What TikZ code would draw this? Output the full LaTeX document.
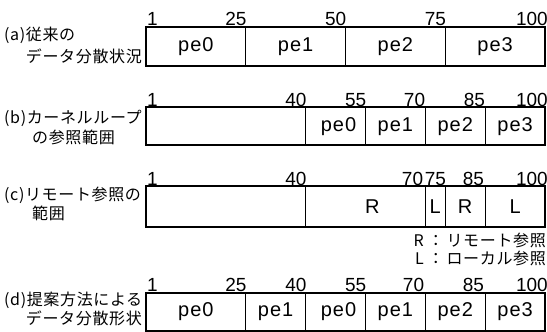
\documentclass[tikz,border=0pt]{standalone}
\usepackage{fontspec}
\setmainfont{Liberation Sans}
\newfontfamily\jp[LetterSpace=4]{Noto Sans CJK JP}
\newfontfamily\celltext[LetterSpace=5]{Liberation Sans}
\begin{document}
\begin{tikzpicture}[x=1pt,y=-1pt,
  outer/.style={draw, line width=1.3pt},
  divider/.style={draw, line width=1pt},
  num/.style={font=\fontsize{19}{19}\selectfont, anchor=base east, inner sep=0pt},
  numl/.style={num, anchor=base west},
  cell/.style={font=\celltext\fontsize{20}{20}\selectfont, inner sep=0pt},
  lab/.style={font=\jp\fontsize{16}{16}\selectfont, anchor=west, inner sep=0pt},
  labr/.style={lab, anchor=east},
  legend/.style={font=\jp\fontsize{16}{16}\selectfont, anchor=east, inner sep=0pt}]
\useasboundingbox (0,0) rectangle (547,332);
% ---------- (a)
\node[lab] (la1) at (4,35) {(a)従来の};
\node[labr] (la2) at (142,56) {データ分散状況};
\draw[outer] (146,27) rectangle (545,66);
\foreach \v in {25,50,75} \draw[divider] ({146+3.99*\v},27) -- ({146+3.99*\v},66);
\node[numl] (na1) at (147,26) {1};
\node[num] (na25) at ({146+3.99*25+1},26) {25};
\node[num] (na50) at ({146+3.99*50+1},26) {50};
\node[num] (na75) at ({146+3.99*75+1},26) {75};
\node[num] (na100) at (548,26) {100};
\node[cell] (ca0) at ({146+3.99*12.5},47) {pe0};
\node[cell] (ca1) at ({146+3.99*37.5},47) {pe1};
\node[cell] (ca2) at ({146+3.99*62.5},47) {pe2};
\node[cell] (ca3) at ({146+3.99*87.5},47) {pe3};
% ---------- (b)
\node[lab] (lb1) at (4,118) {(b)カーネルループ};
\node[lab] (lb2) at (32,137) {の参照範囲};
\draw[outer] (146,107) rectangle (545,145);
\foreach \v in {40,55,70,85} \draw[divider] ({146+3.99*\v},107) -- ({146+3.99*\v},145);
\node[numl] (nb1) at (147,106) {1};
\node[num] (nb40) at ({146+3.99*40+1},106) {40};
\node[num] (nb55) at ({146+3.99*55+1},106) {55};
\node[num] (nb70) at ({146+3.99*70},106) {70};
\node[num] (nb85) at ({146+3.99*85},106) {85};
\node[num] (nb100) at (548,106) {100};
\node[cell] (cb0) at ({146+3.99*47.5+3},127) {pe0};
\node[cell] (cb1) at ({146+3.99*62.5},127) {pe1};
\node[cell] (cb2) at ({146+3.99*77.5},127) {pe2};
\node[cell] (cb3) at ({146+3.99*92.5},127) {pe3};
% ---------- (c)
\node[lab] (lc1) at (4,195) {(c)リモート参照の};
\node[lab] (lc2) at (32,213) {範囲};
\draw[outer] (146,186) rectangle (545,227);
\foreach \v in {40,70,75,85} \draw[divider] ({146+3.99*\v},186) -- ({146+3.99*\v},227);
\node[numl] (nc1) at (147,185) {1};
\node[num] (nc40) at ({146+3.99*40+1},185) {40};
\node[num] (nc70) at ({146+3.99*70-2},185) {70};
\node[num] (nc75) at ({146+3.99*75+1},185) {75};
\node[num] (nc85) at ({146+3.99*85-1},185) {85};
\node[num] (nc100) at (548,185) {100};
\node[cell] (cc0) at ({146+3.99*55+7},207) {R};
\node[cell] (cc1) at ({146+3.99*72.5},207) {L};
\node[cell] (cc2) at ({146+3.99*80},207) {R};
\node[cell] (cc3) at ({146+3.99*92.5},207) {L};
\node[legend] (lgR) at (546,240) {R ：\,リモート参照};
\node[legend] (lgL) at (546,258) {L ：\,ローカル参照};
% ---------- (d)
\node[lab] (ld1) at (4,300) {(d)提案方法による};
\node[labr] (ld2) at (142,318) {データ分散形状};
\draw[outer] (146,293) rectangle (545,331);
\foreach \v in {25,40,55,70,85} \draw[divider] ({146+3.99*\v},293) -- ({146+3.99*\v},331);
\node[numl] (nd1) at (147,291) {1};
\node[num] (nd25) at ({146+3.99*25+1},291) {25};
\node[num] (nd40) at ({146+3.99*40+1},291) {40};
\node[num] (nd55) at ({146+3.99*55+1},291) {55};
\node[num] (nd70) at ({146+3.99*70-1},291) {70};
\node[num] (nd85) at ({146+3.99*85-1},291) {85};
\node[num] (nd100) at (548,291) {100};
\node[cell] (cd0) at ({146+3.99*12.5},312) {pe0};
\node[cell] (cd1) at ({146+3.99*32.5},312) {pe1};
\node[cell] (cd2) at ({146+3.99*47.5+3},312) {pe0};
\node[cell] (cd3) at ({146+3.99*62.5},312) {pe1};
\node[cell] (cd4) at ({146+3.99*77.5},312) {pe2};
\node[cell] (cd5) at ({146+3.99*92.5},312) {pe3};
\end{tikzpicture}
\end{document}
